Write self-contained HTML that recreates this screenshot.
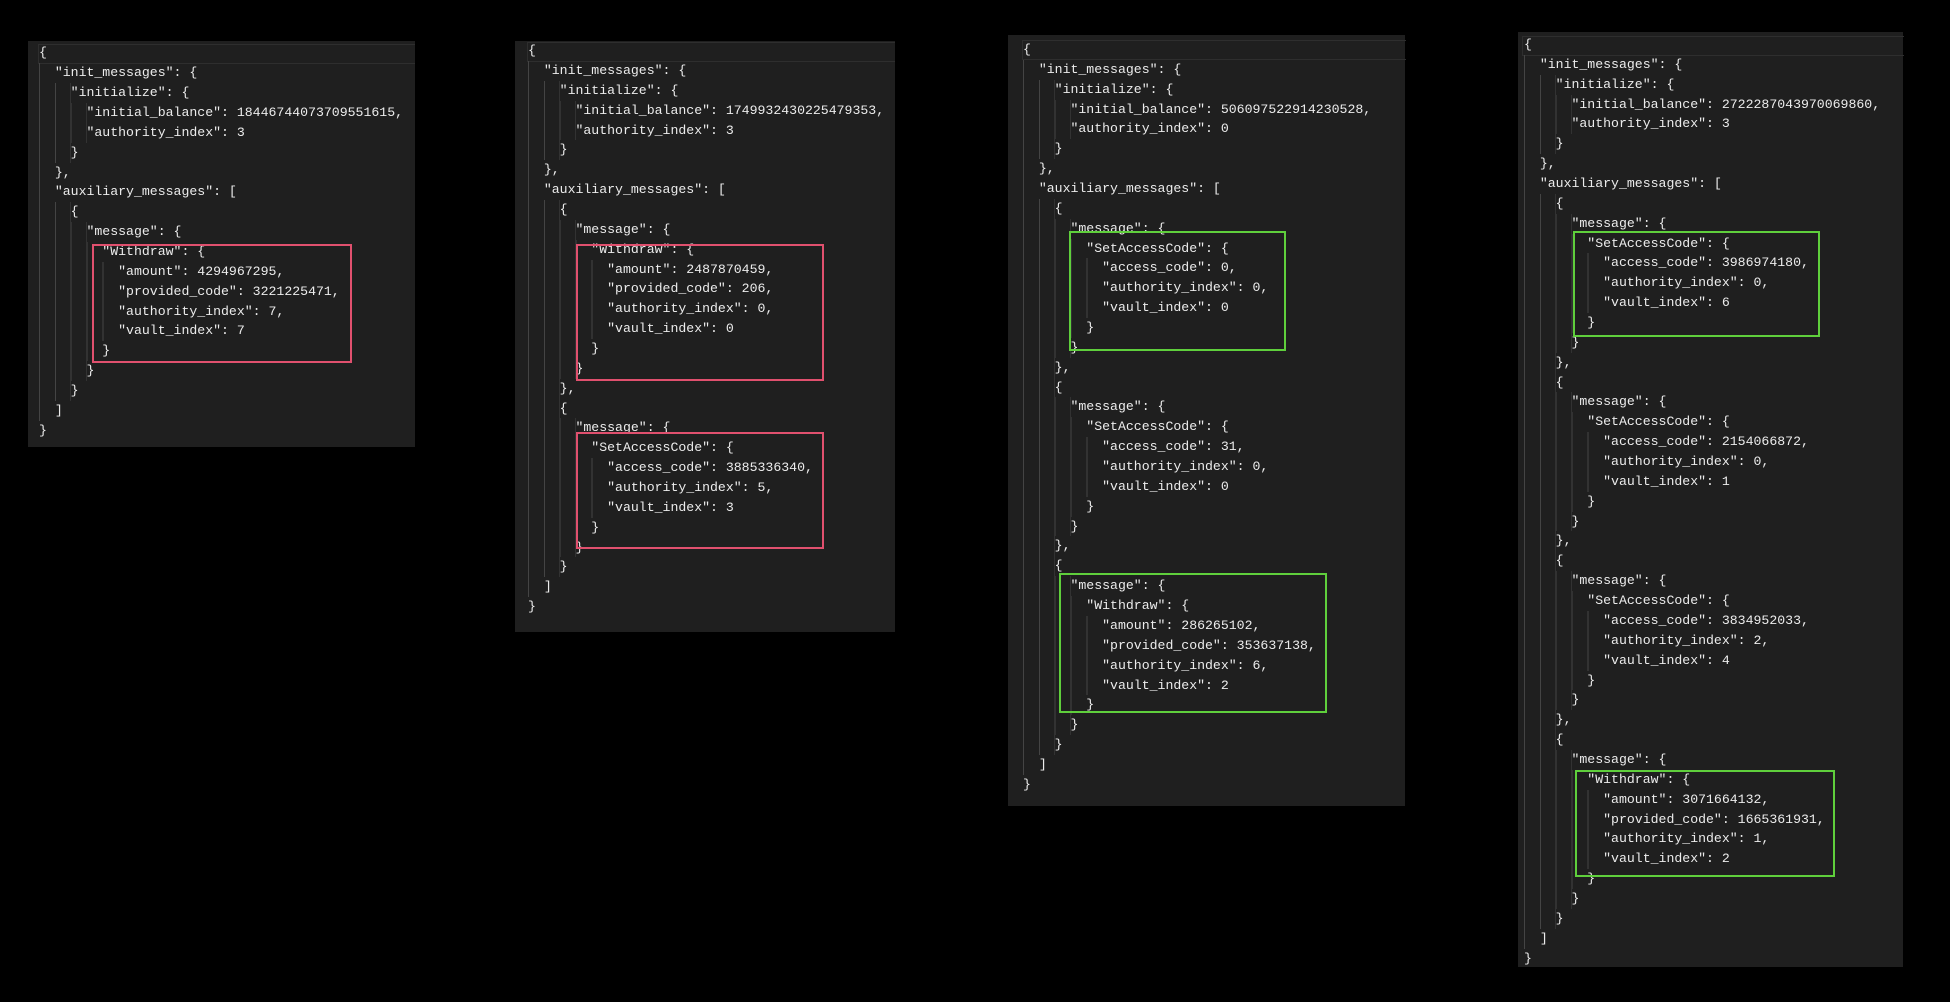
<!DOCTYPE html>
<html><head><meta charset="utf-8"><style>
html,body{margin:0;padding:0;background:#000;width:1950px;height:1002px;overflow:hidden;position:relative}
.p{position:absolute;background:#1f1f1f}
.c{position:absolute;font-family:"Liberation Mono",monospace;font-size:13.2px;line-height:19.86px;color:#ececec}
.l{position:relative;height:19.86px;white-space:pre}
.l::before{content:"";position:absolute;left:0;top:0;height:100%;width:calc(var(--i,0)*15.84px);background:repeating-linear-gradient(to right,#444 0 1px,transparent 1px 15.84px)}
.l span{position:relative}
.hl{position:absolute;border:1px solid #2e2e2e;border-right:none}
.b{position:absolute;box-sizing:border-box;border:2px solid}
.r{border-color:#e0506e}.g{border-color:#5fcf3c}
</style></head><body>

<div class="p" style="left:28px;top:41px;width:387px;height:406px"></div>
<div class="hl" style="left:38px;top:44px;width:376px;height:18px"></div>
<div class="c" style="left:39px;top:43.4px">
<div class="l"><span>{</span></div><div class="l" style="--i:1"><span>  "init_messages": {</span></div><div class="l" style="--i:2"><span>    "initialize": {</span></div><div class="l" style="--i:3"><span>      "initial_balance": 18446744073709551615,</span></div><div class="l" style="--i:3"><span>      "authority_index": 3</span></div><div class="l" style="--i:2"><span>    }</span></div><div class="l" style="--i:1"><span>  },</span></div><div class="l" style="--i:1"><span>  "auxiliary_messages": [</span></div><div class="l" style="--i:2"><span>    {</span></div><div class="l" style="--i:3"><span>      "message": {</span></div><div class="l" style="--i:4"><span>        "Withdraw": {</span></div><div class="l" style="--i:5"><span>          "amount": 4294967295,</span></div><div class="l" style="--i:5"><span>          "provided_code": 3221225471,</span></div><div class="l" style="--i:5"><span>          "authority_index": 7,</span></div><div class="l" style="--i:5"><span>          "vault_index": 7</span></div><div class="l" style="--i:4"><span>        }</span></div><div class="l" style="--i:3"><span>      }</span></div><div class="l" style="--i:2"><span>    }</span></div><div class="l" style="--i:1"><span>  ]</span></div><div class="l"><span>}</span></div>
</div>
<div class="b r" style="left:92px;top:244px;width:260px;height:119px"></div>

<div class="p" style="left:515px;top:41px;width:380px;height:591px"></div>
<div class="hl" style="left:527px;top:42px;width:367px;height:18px"></div>
<div class="c" style="left:528px;top:41.1px">
<div class="l"><span>{</span></div><div class="l" style="--i:1"><span>  "init_messages": {</span></div><div class="l" style="--i:2"><span>    "initialize": {</span></div><div class="l" style="--i:3"><span>      "initial_balance": 1749932430225479353,</span></div><div class="l" style="--i:3"><span>      "authority_index": 3</span></div><div class="l" style="--i:2"><span>    }</span></div><div class="l" style="--i:1"><span>  },</span></div><div class="l" style="--i:1"><span>  "auxiliary_messages": [</span></div><div class="l" style="--i:2"><span>    {</span></div><div class="l" style="--i:3"><span>      "message": {</span></div><div class="l" style="--i:4"><span>        "Withdraw": {</span></div><div class="l" style="--i:5"><span>          "amount": 2487870459,</span></div><div class="l" style="--i:5"><span>          "provided_code": 206,</span></div><div class="l" style="--i:5"><span>          "authority_index": 0,</span></div><div class="l" style="--i:5"><span>          "vault_index": 0</span></div><div class="l" style="--i:4"><span>        }</span></div><div class="l" style="--i:3"><span>      }</span></div><div class="l" style="--i:2"><span>    },</span></div><div class="l" style="--i:2"><span>    {</span></div><div class="l" style="--i:3"><span>      "message": {</span></div><div class="l" style="--i:4"><span>        "SetAccessCode": {</span></div><div class="l" style="--i:5"><span>          "access_code": 3885336340,</span></div><div class="l" style="--i:5"><span>          "authority_index": 5,</span></div><div class="l" style="--i:5"><span>          "vault_index": 3</span></div><div class="l" style="--i:4"><span>        }</span></div><div class="l" style="--i:3"><span>      }</span></div><div class="l" style="--i:2"><span>    }</span></div><div class="l" style="--i:1"><span>  ]</span></div><div class="l"><span>}</span></div>
</div>
<div class="b r" style="left:576px;top:244px;width:248px;height:137px"></div>
<div class="b r" style="left:576px;top:432px;width:248px;height:117px"></div>

<div class="p" style="left:1008px;top:35px;width:397px;height:771px"></div>
<div class="hl" style="left:1022px;top:40px;width:383px;height:18px"></div>
<div class="c" style="left:1023px;top:40px">
<div class="l"><span>{</span></div><div class="l" style="--i:1"><span>  "init_messages": {</span></div><div class="l" style="--i:2"><span>    "initialize": {</span></div><div class="l" style="--i:3"><span>      "initial_balance": 506097522914230528,</span></div><div class="l" style="--i:3"><span>      "authority_index": 0</span></div><div class="l" style="--i:2"><span>    }</span></div><div class="l" style="--i:1"><span>  },</span></div><div class="l" style="--i:1"><span>  "auxiliary_messages": [</span></div><div class="l" style="--i:2"><span>    {</span></div><div class="l" style="--i:3"><span>      "message": {</span></div><div class="l" style="--i:4"><span>        "SetAccessCode": {</span></div><div class="l" style="--i:5"><span>          "access_code": 0,</span></div><div class="l" style="--i:5"><span>          "authority_index": 0,</span></div><div class="l" style="--i:5"><span>          "vault_index": 0</span></div><div class="l" style="--i:4"><span>        }</span></div><div class="l" style="--i:3"><span>      }</span></div><div class="l" style="--i:2"><span>    },</span></div><div class="l" style="--i:2"><span>    {</span></div><div class="l" style="--i:3"><span>      "message": {</span></div><div class="l" style="--i:4"><span>        "SetAccessCode": {</span></div><div class="l" style="--i:5"><span>          "access_code": 31,</span></div><div class="l" style="--i:5"><span>          "authority_index": 0,</span></div><div class="l" style="--i:5"><span>          "vault_index": 0</span></div><div class="l" style="--i:4"><span>        }</span></div><div class="l" style="--i:3"><span>      }</span></div><div class="l" style="--i:2"><span>    },</span></div><div class="l" style="--i:2"><span>    {</span></div><div class="l" style="--i:3"><span>      "message": {</span></div><div class="l" style="--i:4"><span>        "Withdraw": {</span></div><div class="l" style="--i:5"><span>          "amount": 286265102,</span></div><div class="l" style="--i:5"><span>          "provided_code": 353637138,</span></div><div class="l" style="--i:5"><span>          "authority_index": 6,</span></div><div class="l" style="--i:5"><span>          "vault_index": 2</span></div><div class="l" style="--i:4"><span>        }</span></div><div class="l" style="--i:3"><span>      }</span></div><div class="l" style="--i:2"><span>    }</span></div><div class="l" style="--i:1"><span>  ]</span></div><div class="l"><span>}</span></div>
</div>
<div class="b g" style="left:1069px;top:231px;width:217px;height:120px"></div>
<div class="b g" style="left:1059px;top:573px;width:268px;height:140px"></div>

<div class="p" style="left:1518px;top:32px;width:385px;height:935px"></div>
<div class="hl" style="left:1522px;top:36px;width:381px;height:18px"></div>
<div class="c" style="left:1524px;top:35px">
<div class="l"><span>{</span></div><div class="l" style="--i:1"><span>  "init_messages": {</span></div><div class="l" style="--i:2"><span>    "initialize": {</span></div><div class="l" style="--i:3"><span>      "initial_balance": 2722287043970069860,</span></div><div class="l" style="--i:3"><span>      "authority_index": 3</span></div><div class="l" style="--i:2"><span>    }</span></div><div class="l" style="--i:1"><span>  },</span></div><div class="l" style="--i:1"><span>  "auxiliary_messages": [</span></div><div class="l" style="--i:2"><span>    {</span></div><div class="l" style="--i:3"><span>      "message": {</span></div><div class="l" style="--i:4"><span>        "SetAccessCode": {</span></div><div class="l" style="--i:5"><span>          "access_code": 3986974180,</span></div><div class="l" style="--i:5"><span>          "authority_index": 0,</span></div><div class="l" style="--i:5"><span>          "vault_index": 6</span></div><div class="l" style="--i:4"><span>        }</span></div><div class="l" style="--i:3"><span>      }</span></div><div class="l" style="--i:2"><span>    },</span></div><div class="l" style="--i:2"><span>    {</span></div><div class="l" style="--i:3"><span>      "message": {</span></div><div class="l" style="--i:4"><span>        "SetAccessCode": {</span></div><div class="l" style="--i:5"><span>          "access_code": 2154066872,</span></div><div class="l" style="--i:5"><span>          "authority_index": 0,</span></div><div class="l" style="--i:5"><span>          "vault_index": 1</span></div><div class="l" style="--i:4"><span>        }</span></div><div class="l" style="--i:3"><span>      }</span></div><div class="l" style="--i:2"><span>    },</span></div><div class="l" style="--i:2"><span>    {</span></div><div class="l" style="--i:3"><span>      "message": {</span></div><div class="l" style="--i:4"><span>        "SetAccessCode": {</span></div><div class="l" style="--i:5"><span>          "access_code": 3834952033,</span></div><div class="l" style="--i:5"><span>          "authority_index": 2,</span></div><div class="l" style="--i:5"><span>          "vault_index": 4</span></div><div class="l" style="--i:4"><span>        }</span></div><div class="l" style="--i:3"><span>      }</span></div><div class="l" style="--i:2"><span>    },</span></div><div class="l" style="--i:2"><span>    {</span></div><div class="l" style="--i:3"><span>      "message": {</span></div><div class="l" style="--i:4"><span>        "Withdraw": {</span></div><div class="l" style="--i:5"><span>          "amount": 3071664132,</span></div><div class="l" style="--i:5"><span>          "provided_code": 1665361931,</span></div><div class="l" style="--i:5"><span>          "authority_index": 1,</span></div><div class="l" style="--i:5"><span>          "vault_index": 2</span></div><div class="l" style="--i:4"><span>        }</span></div><div class="l" style="--i:3"><span>      }</span></div><div class="l" style="--i:2"><span>    }</span></div><div class="l" style="--i:1"><span>  ]</span></div><div class="l"><span>}</span></div>
</div>
<div class="b g" style="left:1573px;top:231px;width:247px;height:106px"></div>
<div class="b g" style="left:1575px;top:770px;width:260px;height:107px"></div>

</body></html>
